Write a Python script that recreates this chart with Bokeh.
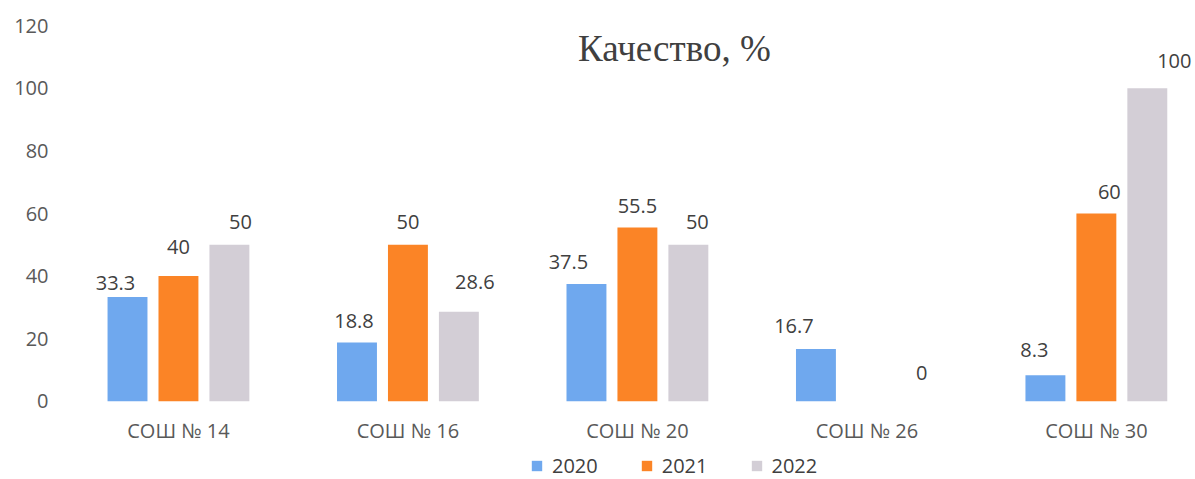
import math
from bokeh.plotting import figure
from bokeh.models import ColumnDataSource, FixedTicker, Label, Legend, LegendItem, Range1d
from bokeh.transform import dodge
from bokeh.embed import file_html
from bokeh.resources import INLINE

# ---- data ----
categories = ["СОШ № 14", "СОШ № 16", "СОШ № 20", "СОШ № 26", "СОШ № 30"]
years = ["2020", "2021", "2022"]
v2020 = [33.3, 18.8, 37.5, 16.7, 8.3]
v2021 = [40, 50, 55.5, None, 60]
v2022 = [50, 28.6, 50, 0, 100]
y_ticks = [0, 20, 40, 60, 80, 100, 120]
title_text = "Качество, %"

# ---- styles ----
colors = ["#6FA8EE", "#FB8426", "#D3CED6"]
offsets = [-0.222, 0.0, 0.222]
label_dx = [[-12, -3, -18, -22, -11], [0, 0, 0, 0, 13], [11, 16, 9, 4, 27]]
label_gap = [[14, 21, 22, 23, 25], [29, 23, 22, 0, 22], [23, 30, 23, 28, 27]]
FONT = "Open Sans"
TXT = "#404040"

p = figure(width=1195, height=479, output_backend="svg", toolbar_location=None,
           x_range=Range1d(-0.514, 4.432), y_range=Range1d(-25, 122),
           min_border_left=60, min_border_right=0, min_border_top=19, min_border_bottom=0)
p.outline_line_color = None
p.xgrid.visible = False
p.ygrid.visible = False
p.background_fill_color = "white"

series = [v2020, v2021, v2022]
xs = list(range(len(categories)))
renderers = []
for k, vals in enumerate(series):
    tops = [float("nan") if v is None else v for v in vals]
    labels = ["" if v is None else f"{v:g}" for v in vals]
    src = ColumnDataSource(dict(x=xs, top=tops, label=labels,
                                dx=label_dx[k], dy=[-g for g in label_gap[k]]))
    r = p.vbar(x=dodge("x", offsets[k], range=p.x_range), top="top", bottom=0, width=0.174,
               source=src, fill_color=colors[k], line_color=None)
    renderers.append(r)
    p.text(x=dodge("x", offsets[k], range=p.x_range), y="top", text="label",
           x_offset="dx", y_offset="dy", source=src,
           text_align="center", text_baseline="alphabetic",
           text_font={"value": FONT}, text_font_size="20px", text_color=TXT)

p.yaxis.ticker = FixedTicker(ticks=y_ticks)
p.yaxis.axis_line_color = None
p.yaxis.major_tick_line_color = None
p.yaxis.minor_tick_line_color = None
p.yaxis.major_tick_out = 0
p.yaxis.major_label_standoff = 12
p.yaxis.major_label_text_font = FONT
p.yaxis.major_label_text_font_size = "20px"
p.yaxis.major_label_text_color = "#595959"

p.xaxis.fixed_location = 0
p.xaxis.ticker = FixedTicker(ticks=xs)
p.xaxis.major_label_overrides = {i: c for i, c in enumerate(categories)}
p.xaxis.axis_line_color = None
p.xaxis.major_tick_line_color = None
p.xaxis.minor_tick_line_color = None
p.xaxis.major_tick_out = 0
p.xaxis.major_label_standoff = 16
p.xaxis.major_label_text_font = FONT
p.xaxis.major_label_text_font_size = "20px"
p.xaxis.major_label_text_color = "#595959"

p.add_layout(Label(x=2.161, y=112.7, text=title_text, text_align="center",
                   text_baseline="alphabetic", text_font="Liberation Serif",
                   text_font_size="37px", text_color=TXT))

legend = Legend(items=[LegendItem(label=years[k], renderers=[renderers[k]]) for k in range(3)],
                orientation="horizontal", location=(470, 0),
                glyph_width=13, glyph_height=13, label_standoff=9, spacing=42,
                padding=0, margin=0, border_line_alpha=0, background_fill_alpha=0,
                label_text_font=FONT, label_text_font_size="20px", label_text_color=TXT)
p.add_layout(legend)

open("out.html", "w").write(file_html(p, INLINE))
